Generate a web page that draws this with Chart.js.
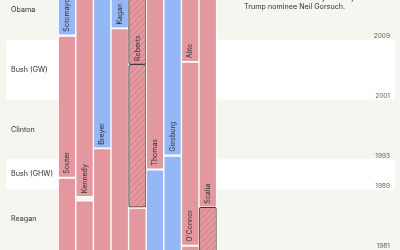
<!DOCTYPE html>
<html>
<head>
<meta charset="utf-8">
<script src="https://cdn.jsdelivr.net/npm/chart.js@4.4.0/dist/chart.umd.min.js"></script>
<style>
  body { margin: 0; background: #f6f6f1; }
  #myChart { display: block; }
</style>
</head>
<body>
<canvas id="myChart" width="400" height="250"></canvas>
<script>
const graph = document.querySelector("#myChart");

// seats (columns), one bar per justice
const seats = ["1", "2", "3", "4", "5", "6", "7", "8", "9"];

const justices = [
  "Sotomayor", "Souter", "Brennan",
  "Kennedy", "Powell",
  "Breyer", "Blackmun",
  "Kagan", "Stevens",
  "Roberts", "Rehnquist (C)", "Burger",
  "Thomas", "Marshall",
  "Ginsburg", "White",
  "Alito", "O'Connor", "Stewart",
  "Scalia", "Rehnquist",
];
const seatOf = ["1", "1", "1", "2", "2", "3", "3", "4", "4", "5", "5", "5",
  "6", "6", "7", "7", "8", "8", "8", "9", "9"];
const startYear = [2009.6, 1990.6, 1956.8, 1988.0, 1972.0, 1994.5, 1970.4,
  2010.55, 1975.9, 2005.7, 1986.6, 1969.5, 1991.7, 1967.7, 1993.55, 1962.3,
  2006.05, 1981.5, 1958.8, 1986.6, 1972.0];
const endYear = [2020, 2009.5, 1990.5, 2018.6, 1987.45, 2022.5, 1994.45,
  2022, 2010.5, 2022, 2005.7, 1986.5, 2022, 1991.6, 2020.7, 1993.45,
  2022, 2006.0, 1981.4, 2016.1, 1986.6];
// D = nombrado por demócrata, R = republicano
const party = ["D", "R", "R", "R", "R", "D", "R", "D", "R", "R", "R", "R",
  "R", "D", "D", "D", "R", "R", "R", "R", "R"];
const hatched = [0, 0, 0, 0, 0, 0, 0, 0, 0, 1, 1, 0, 0, 0, 0, 0, 0, 0, 0, 0, 1];
const labeled = [1, 1, 0, 1, 0, 1, 0, 1, 0, 1, 0, 0, 1, 0, 1, 0, 1, 1, 0, 1, 0];

// presidencies
const presidents = ["Obama", "Bush (GW)", "Clinton", "Bush (GHW)", "Reagan"];
const presStart = [2009, 2001, 1993, 1989, 1981];
const presEnd = [2017, 2009, 2001, 1993, 1989];
const yearTicks = [2009, 2001, 1993, 1989, 1981];

const noteLines = ["The seat was eventually filled by", "Trump nominee Neil Gorsuch."];

const RED = "#e3989f";
const BLUE = "#94b8f6";
const FONT = "Inter, 'Liberation Sans', sans-serif";

// hatch pattern
const makeHatch = () => {
  const s = 6;
  const c = document.createElement("canvas");
  c.width = s;
  c.height = s;
  const cx = c.getContext("2d");
  cx.fillStyle = RED;
  cx.fillRect(0, 0, s, s);
  cx.strokeStyle = "#cf7782";
  cx.lineWidth = 0.8;
  cx.beginPath();
  cx.moveTo(0, s);
  cx.lineTo(s, 0);
  cx.moveTo(-1, 1);
  cx.lineTo(1, -1);
  cx.moveTo(s - 1, s + 1);
  cx.lineTo(s + 1, s - 1);
  cx.stroke();
  return graph.getContext("2d").createPattern(c, "repeat");
};
const hatch = makeHatch();

const roundRect = (ctx, x, y, w, h, r) => {
  ctx.beginPath();
  ctx.moveTo(x + r, y);
  ctx.lineTo(x + w - r, y);
  ctx.quadraticCurveTo(x + w, y, x + w, y + r);
  ctx.lineTo(x + w, y + h - r);
  ctx.quadraticCurveTo(x + w, y + h, x + w - r, y + h);
  ctx.lineTo(x + r, y + h);
  ctx.quadraticCurveTo(x, y + h, x, y + h - r);
  ctx.lineTo(x, y + r);
  ctx.quadraticCurveTo(x, y, x + r, y);
  ctx.closePath();
};

const backdrop = {
  id: "backdrop",
  beforeDraw: (chart) => {
    const ctx = chart.ctx;
    const y = chart.scales.y;
    ctx.save();
    ctx.fillStyle = "#f6f6f1";
    ctx.fillRect(0, 0, chart.width, chart.height);
    presidents.forEach((p, i) => {
      const top = y.getPixelForValue(presEnd[i]);
      const bot = y.getPixelForValue(presStart[i]);
      if (i % 2 === 1) {
        ctx.fillStyle = "#ffffff";
        roundRect(ctx, 6, top, 389, bot - top, 3);
        ctx.fill();
      }
      ctx.fillStyle = "#2f2f2f";
      ctx.font = `7.2px ${FONT}`;
      ctx.textAlign = "left";
      ctx.textBaseline = "middle";
      ctx.fillText(p, 11, (top + bot) / 2);
    });
    ctx.fillStyle = "#5a5a5a";
    ctx.font = `6.5px ${FONT}`;
    ctx.textAlign = "right";
    yearTicks.forEach((yr) => {
      ctx.fillText(String(yr), 390, y.getPixelForValue(yr) - 3.5);
    });
    ctx.fillStyle = "#2f2f2f";
    ctx.font = `7.2px ${FONT}`;
    ctx.textAlign = "left";
    noteLines.forEach((t, i) => {
      ctx.fillText(t, 244, -2.5 + i * 9);
    });
    ctx.restore();
  },
  afterDatasetsDraw: (chart) => {
    const ctx = chart.ctx;
    const meta = chart.getDatasetMeta(0);
    ctx.save();
    ctx.fillStyle = "#333";
    ctx.font = `7px ${FONT}`;
    ctx.textAlign = "left";
    ctx.textBaseline = "middle";
    meta.data.forEach((bar, i) => {
      if (!labeled[i]) return;
      ctx.save();
      ctx.translate(bar.x, bar.base - 3.5);
      ctx.rotate(-Math.PI / 2);
      ctx.fillText(justices[i], 0, 0);
      ctx.restore();
    });
    ctx.restore();
  },
};

const courtChart = new Chart(graph, {
  type: "bar",
  data: {
    labels: seats,
    datasets: [
      {
        data: justices.map((j, i) => ({ x: seatOf[i], y: [startYear[i], endYear[i]] })),
        backgroundColor: justices.map((j, i) =>
          hatched[i] ? hatch : party[i] === "D" ? BLUE : RED
        ),
        borderColor: justices.map((j, i) => (hatched[i] ? "#3a3a3a" : "#ffffff")),
        borderWidth: 1,
        borderSkipped: false,
        borderRadius: 2,
        barPercentage: 1,
        categoryPercentage: 1,
      },
    ],
  },
  options: {
    responsive: false,
    animation: false,
    devicePixelRatio: 1,
    layout: { padding: { left: 58.2, right: 183.4, top: 0, bottom: 0 } },
    scales: {
      x: { type: "category", display: false, offset: true },
      y: { type: "linear", display: false, min: 1980.88, max: 2014.31 },
    },
    plugins: {
      legend: { display: false },
      tooltip: { enabled: false },
    },
  },
  plugins: [backdrop],
});
</script>
</body>
</html>
